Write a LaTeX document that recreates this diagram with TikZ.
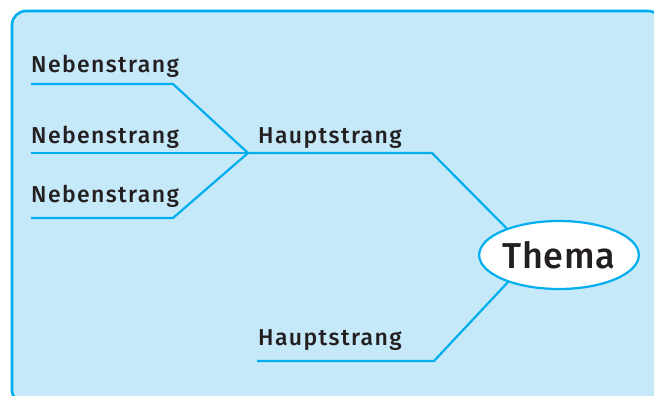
\documentclass[tikz,border=0pt]{standalone}
\usepackage{fontspec}
\setmainfont{Fira Sans}[UprightFont=* Medium, BoldFont=* SemiBold]
\newfontfamily\lblfont{Fira Sans}[UprightFont=* Medium, LetterSpace=6]
\newfontfamily\topicfont{Fira Sans}[UprightFont=* Medium, LetterSpace=2]
\usetikzlibrary{shapes.geometric}
\definecolor{strandblue}{HTML}{00AEEF}
\definecolor{panelblue}{HTML}{C5E9F9}
\definecolor{txtgrey}{HTML}{231F20}
\begin{document}
\begin{tikzpicture}[x=1pt,y=-1pt,
  strand/.style={draw=strandblue, line width=2.2pt},
  lbl/.style={anchor=base west, inner sep=0pt, text=txtgrey, font=\lblfont\fontsize{23}{23}\selectfont},
  topic/.style={ellipse, draw=strandblue, fill=white, line width=2.2pt, minimum width=154pt, minimum height=68pt, inner sep=0pt, text=txtgrey, font=\topicfont\fontsize{36}{36}\selectfont}]
\useasboundingbox (0,0) rectangle (654,396);
\clip (0,0) rectangle (654,396);
\draw[draw=strandblue, fill=panelblue, line width=2.6pt, rounded corners=14pt] (12,11) rectangle (662,404);
% coordinates
\coordinate (n1s) at (31,84);
\coordinate (n1e) at (173,84);
\coordinate (n2s) at (31,153);
\coordinate (hub) at (248,153);
\coordinate (n3s) at (31,218);
\coordinate (n3e) at (173,218);
\coordinate (h1e) at (432,153);
\coordinate (h2s) at (257,361);
\coordinate (h2e) at (434,361);
% topic
\node[topic] (thema) at (559,255) {Thema};
% strands
\draw[strand] (n1s) -- (n1e) -- (hub);
\draw[strand] (n2s) -- (hub);
\draw[strand] (n3s) -- (n3e) -- (hub);
\draw[strand] (hub) -- (h1e) -- (thema.153);
\draw[strand] (h2s) -- (h2e) -- (thema.208);
% labels
\node[lbl] (neb1) at (31,73) {Nebenstrang};
\node[lbl] (neb2) at (31,143) {Nebenstrang};
\node[lbl] (neb3) at (31,202) {Nebenstrang};
\node[lbl] (haupt1) at (258,143) {Hauptstrang};
\node[lbl] (haupt2) at (258,345) {Hauptstrang};
\end{tikzpicture}
\end{document}
